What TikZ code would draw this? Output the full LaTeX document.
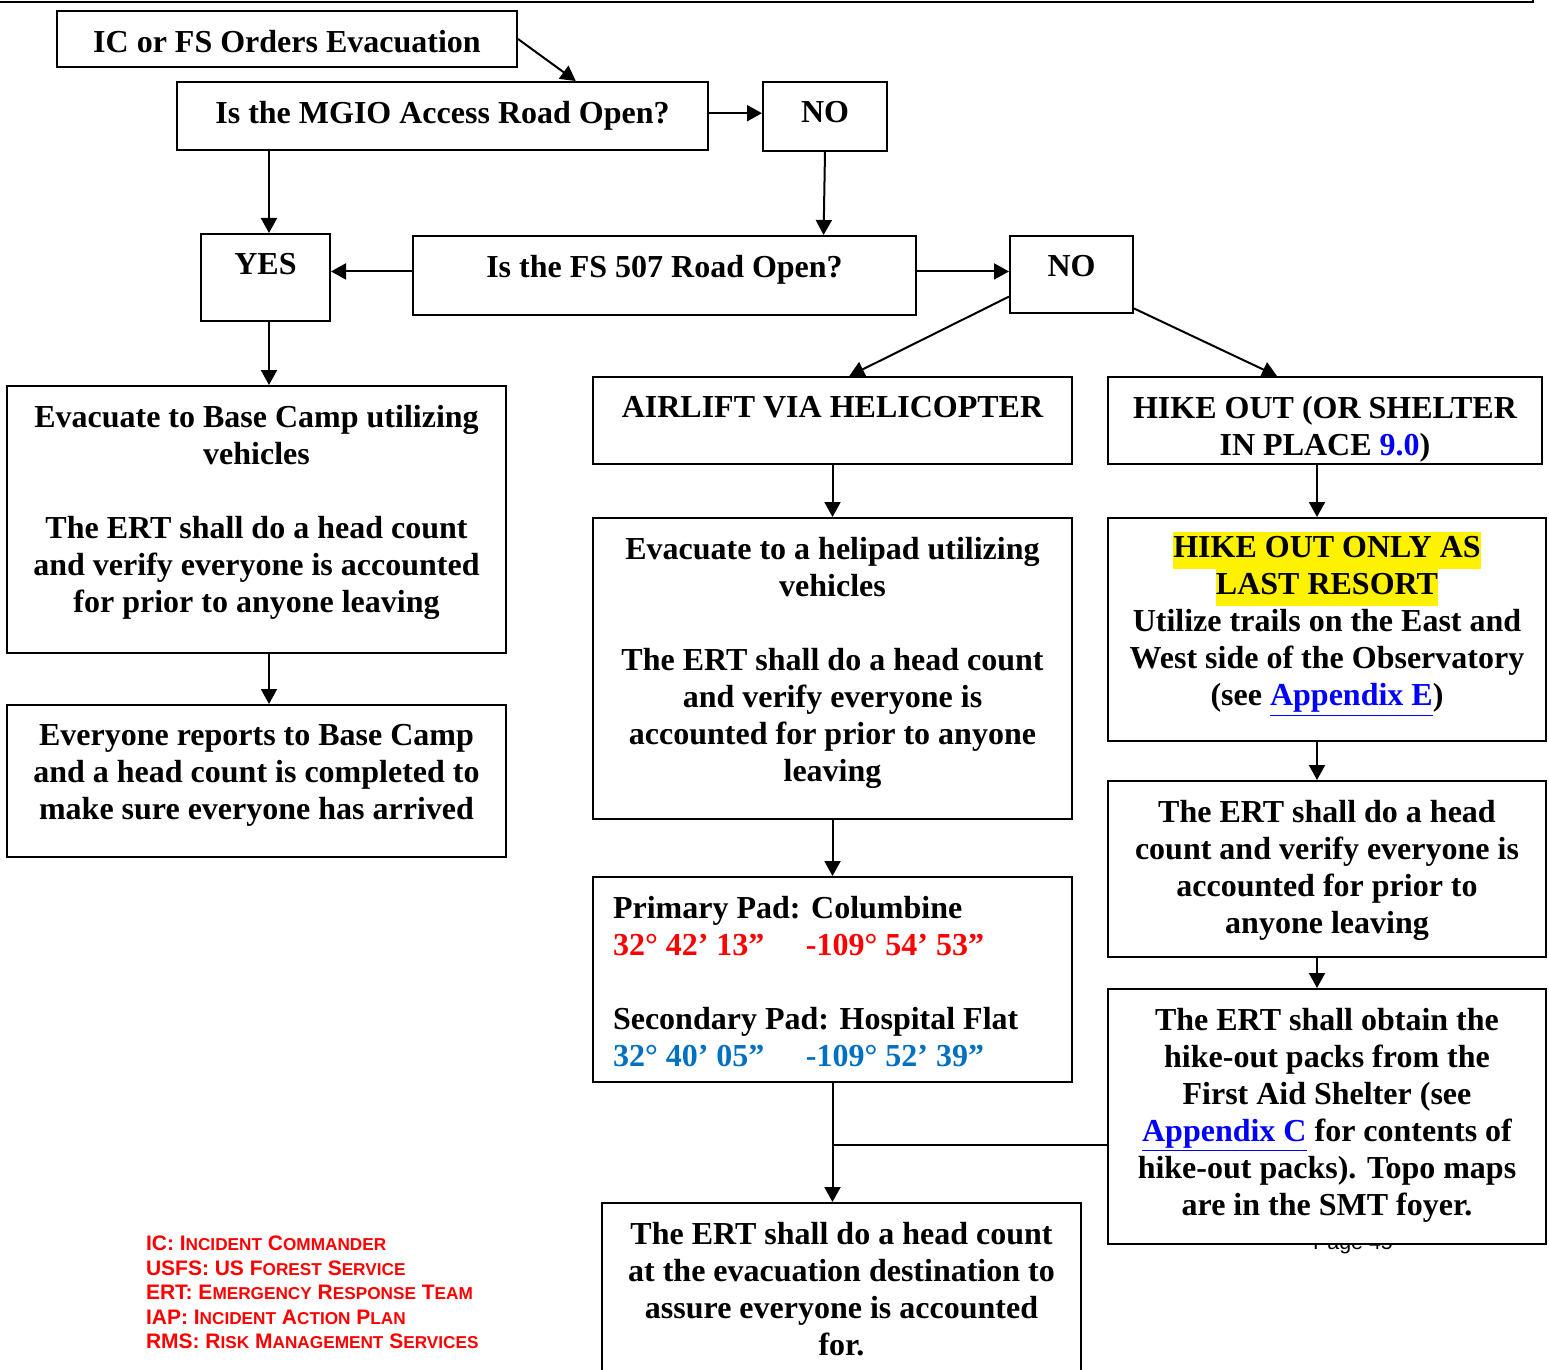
\documentclass[tikz,border=0pt]{standalone}
\usepackage{fontspec}
\setmainfont{Liberation Serif}
\newfontfamily\legendfont{Liberation Sans}
\usetikzlibrary{arrows.meta,positioning,fit,calc}

\definecolor{padred}{RGB}{255,0,0}
\definecolor{padblue}{RGB}{0,112,192}
\definecolor{linkblue}{RGB}{0,0,255}
\newcommand\fakesc[2]{#1{\fontsize{8.6}{10}\selectfont#2}}
\newcommand\linktext[1]{\textcolor{linkblue}{\underline{#1}}}
\newcommand\hilite[1]{{\setlength\fboxsep{0pt}\colorbox{yellow}{\strut#1}}}

\begin{document}
\begin{tikzpicture}[x=0.5pt,y=-0.5pt,line width=1pt,
  box/.style={draw,fill=white,inner sep=0pt},
  txt/.style={font=\bfseries\fontsize{16}{18.5}\selectfont,align=center,inner sep=0pt},
  arr/.style={-{Triangle[length=7.5pt,width=8pt]}}]
\useasboundingbox (0,0) rectangle (1549,1370);
\draw (0,2) -- (1533,2) -- (1533,0);
\coordinate (leftaxis) at (269,0);
\coordinate (rightaxis) at (1317,0);

% question boxes
\node[box,fit={(57,11)(517,67)}] (ic) {};
\node[txt,below=9.5pt of ic.north] (ictxt) {IC or FS Orders Evacuation};
\node[box,fit={(177,82)(708,150)}] (mgio) {};
\node[txt,below=9.5pt of mgio.north] (mgiotxt) {Is the MGIO Access Road Open?};
\node[box,fit={(763,82)(887,151)}] (no1) {};
\node[txt,below=9.5pt of no1.north] (no1txt) {NO};
\node[box,fit={(201,234)(330,321)}] (yes) {};
\node[txt,below=9.5pt of yes.north] (yestxt) {YES};
\node[box,fit={(413,236)(916,315)}] (fs) {};
\node[txt,below=9.5pt of fs.north] (fstxt) {Is the FS 507 Road Open?};
\node[box,fit={(1010,236)(1133,313)}] (no2) {};
\node[txt,below=9.5pt of no2.north] (no2txt) {NO};

% base camp side
\node[box,fit={(7,386)(506,653)}] (base) {};
\node[txt,below=9.5pt of base.north] (basetxt) {Evacuate to Base Camp utilizing\\vehicles\\[18.5pt]The ERT shall do a head count\\and verify everyone is accounted\\for prior to anyone leaving};
\node[box,fit={(7,705)(506,857)}] (evr) {};
\node[txt,below=9.5pt of evr.north] (evrtxt) {Everyone reports to Base Camp\\and a head count is completed to\\make sure everyone has arrived};

% helicopter side
\node[box,fit={(593,377)(1072,464)}] (air) {};
\node[txt,below=9.5pt of air.north] (airtxt) {AIRLIFT VIA HELICOPTER};
\node[box,fit={(593,518)(1072,819)}] (heli) {};
\node[txt,below=9.5pt of heli.north] (helitxt) {Evacuate to a helipad utilizing\\vehicles\\[18.5pt]The ERT shall do a head count\\and verify everyone is\\accounted for prior to anyone\\leaving};
\node[box,fit={(593,877)(1072,1082)}] (pad) {};
\node[txt,align=left,below right=9.5pt and 10pt of pad.north west] (padtxt) {Primary Pad: Columbine\\
{\color{padred}\makebox[96.5pt][l]{32° 42’ 13”}-109° 54’ 53”}\\[18.5pt]
Secondary Pad: Hospital Flat\\
{\color{padblue}\makebox[96.5pt][l]{32° 40’ 05”}-109° 52’ 39”}};
\node[box,fit={(602,1203)(1081,1400)}] (fin) {};
\node[txt,below=9.5pt of fin.north] (fintxt) {The ERT shall do a head count\\at the evacuation destination to\\assure everyone is accounted\\for.};

% hike side
\node[box,fit={(1108,377)(1542,464)}] (hike) {};
\node[txt,below=9.5pt of hike.north] (hiketxt) {HIKE OUT (OR SHELTER\\IN PLACE {\color{linkblue}9.0})};
\node[box,fit={(1108,518)(1546,741)}] (last) {};
\node[txt,below=7pt of last.north] (lasttxt) {\hilite{HIKE OUT ONLY AS}\\\hilite{LAST RESORT}\\Utilize trails on the East and\\West side of the Observatory\\(see \linktext{Appendix E})};
\node[box,fit={(1108,781)(1546,957)}] (ert) {};
\node[txt,below=9.5pt of ert.north] (erttxt) {The ERT shall do a head\\count and verify everyone is\\accounted for prior to\\anyone leaving};
\node[anchor=base,inner sep=0pt,font=\legendfont\fontsize{10.7}{12}\selectfont] (page) at (1353,1249) {Page 45};
\node[box,fit={(1108,989)(1546,1244)}] (packs) {};
\node[txt,below=9.5pt of packs.north] (packstxt) {The ERT shall obtain the\\hike-out packs from the\\First Aid Shelter (see\\\linktext{Appendix C} for contents of\\hike-out packs). Topo maps\\are in the SMT foyer.};

% legend
\node[anchor=north west,inner sep=0pt,align=left,text=padred,
  font=\legendfont\bfseries\fontsize{10.5}{12.25}\selectfont] (legend) at (145,1235)
  {IC: \fakesc{I}{NCIDENT} \fakesc{C}{OMMANDER}\\
   USFS: US \fakesc{F}{OREST} \fakesc{S}{ERVICE}\\
   ERT: \fakesc{E}{MERGENCY} \fakesc{R}{ESPONSE} \fakesc{T}{EAM}\\
   IAP: \fakesc{I}{NCIDENT} \fakesc{A}{CTION} \fakesc{P}{LAN}\\
   RMS: \fakesc{R}{ISK} \fakesc{M}{ANAGEMENT} \fakesc{S}{ERVICES}};

% connectors
\coordinate (mgioout) at ($(mgio.north east)!.46!(mgio.south east)$);
\coordinate (fsleft) at ($(fs.north west)!.45!(fs.south west)$);
\coordinate (fsright) at ($(fs.north east)!.45!(fs.south east)$);
\draw[arr] (ic.east) -- ($(mgio.north west)!.75!(mgio.north east)$);
\draw[arr] (mgioout) -- (mgioout -| no1.west);
\draw[arr] (no1.south) -- ($(fs.north west)!.815!(fs.north east)$);
\draw[arr] (mgio.south -| leftaxis) -- (yes.north -| leftaxis);
\draw[arr] (fsleft) -- (fsleft -| yes.east);
\draw[arr] (fsright) -- (fsright -| no2.west);
\draw[arr] ($(no2.north west)!.78!(no2.south west)$) -- ($(air.north west)!.535!(air.north east)$);
\draw[arr] ($(no2.north east)!.93!(no2.south east)$) -- ($(hike.north west)!.39!(hike.north east)$);
\draw[arr] (yes.south -| leftaxis) -- (base.north -| leftaxis);
\draw[arr] (base.south -| leftaxis) -- (evr.north -| leftaxis);
\draw[arr] (air.south) -- (heli.north);
\draw[arr] (heli.south) -- (pad.north);
\draw[arr] (pad.south) -- (pad.south |- fin.north);
\coordinate (join) at ($(packs.north west)!.61!(packs.south west)$);
\draw (join) -- (join -| pad.south);
\draw[arr] (hike.south -| rightaxis) -- (last.north -| rightaxis);
\draw[arr] (last.south -| rightaxis) -- (ert.north -| rightaxis);
\draw[arr] (ert.south -| rightaxis) -- (packs.north -| rightaxis);
\end{tikzpicture}
\end{document}
